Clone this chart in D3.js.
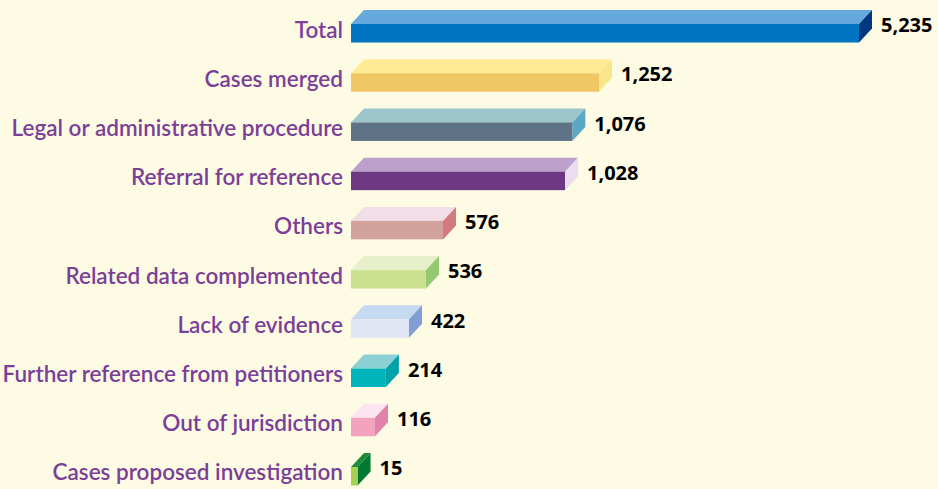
<!DOCTYPE html>
<html>
<head>
<meta charset="utf-8">
<script src="https://cdn.jsdelivr.net/npm/d3@7"></script>
<style>
  html, body { margin: 0; padding: 0; background: #fefbe4; }
  svg { display: block; }
</style>
</head>
<body>
<svg id="chart"></svg>
<script>
// data
const categories = [
  "Total",
  "Cases merged",
  "Legal or administrative procedure",
  "Referral for reference",
  "Others",
  "Related data complemented",
  "Lack of evidence",
  "Further reference from petitioners",
  "Out of jurisdiction",
  "Cases proposed investigation"
];
const values = [5235, 1252, 1076, 1028, 576, 536, 422, 214, 116, 15];

// colours per bar: front, top, side
const frontColors = ["#0074c1", "#f1c664", "#5e7486", "#6c3982", "#d4a29d", "#cce08f", "#dfe5f3", "#00b4bc", "#f2a4bf", "#a7cf51"];
const topColors   = ["#66a9dc", "#fdec95", "#9cc6cc", "#bd9fcc", "#f1dee6", "#e7f0ca", "#c5d9f1", "#8bd0d4", "#fce4f0", "#1c8c3c"];
const sideColors  = ["#00387f", "#f9e68c", "#5aa8c6", "#e9ddef", "#d17b7e", "#94c971", "#809ed5", "#00a1a7", "#e282a8", "#007a33"];

const width = 938;
const height = 489;

const rows = categories.map((c, i) => ({
  name: c, value: values[i], front: frontColors[i], top: topColors[i], side: sideColors[i]
}));

// bar lengths in the original are not proportional; a polylinear scale follows them
const x = d3.scaleLinear()
  .domain([0, 116, 422, 536, 576, 1028, 1252, 5235])
  .range([4, 24, 58, 75, 92, 214, 248, 508]);

const y = d3.scaleBand()
  .domain(categories)
  .range([24, 24 + categories.length * 49.22])
  .paddingInner(0);

const x0 = 351;     // left edge of bars
const h = 18.5;     // front face height
const dx = 13, dy = 14; // 3d depth

const svg = d3.select("#chart")
  .attr("width", width)
  .attr("height", height);

svg.append("rect")
  .attr("width", width)
  .attr("height", height)
  .attr("fill", "#fefbe4");

const bar = svg.append("g")
  .selectAll("g")
  .data(rows)
  .join("g");

// top face
bar.append("path")
  .attr("fill", d => d.top)
  .attr("d", d => {
    const x1 = x0 + x(d.value), yt = y(d.name);
    return `M${x0},${yt}L${x0 + dx},${yt - dy}L${x1 + dx},${yt - dy}L${x1},${yt}Z`;
  });

// side face
bar.append("path")
  .attr("fill", d => d.side)
  .attr("d", d => {
    const x1 = x0 + x(d.value), yt = y(d.name);
    return `M${x1},${yt}L${x1 + dx},${yt - dy}L${x1 + dx},${yt - dy + h}L${x1},${yt + h}Z`;
  });

// front face
bar.append("rect")
  .attr("x", x0)
  .attr("y", d => y(d.name))
  .attr("width", d => x(d.value))
  .attr("height", h)
  .attr("fill", d => d.front);

// category labels
svg.append("g")
  .attr("text-anchor", "end")
  .style("font", "600 22.5px Lato, 'Open Sans', sans-serif")
  .attr("fill", "#7b3f98")
  .selectAll("text")
  .data(rows)
  .join("text")
    .attr("x", 343)
    .attr("y", d => y(d.name) + 13.5)
    .text(d => d.name);

// value labels
svg.append("g")
  .style("font", "700 20px 'Open Sans', sans-serif")
  .attr("fill", "#000")
  .selectAll("text")
  .data(rows)
  .join("text")
    .attr("x", d => x0 + x(d.value) + dx + 9)
    .attr("y", d => y(d.name) + 1)
    .attr("dy", "0.36em")
    .text(d => d3.format(",")(d.value));
</script>
</body>
</html>
